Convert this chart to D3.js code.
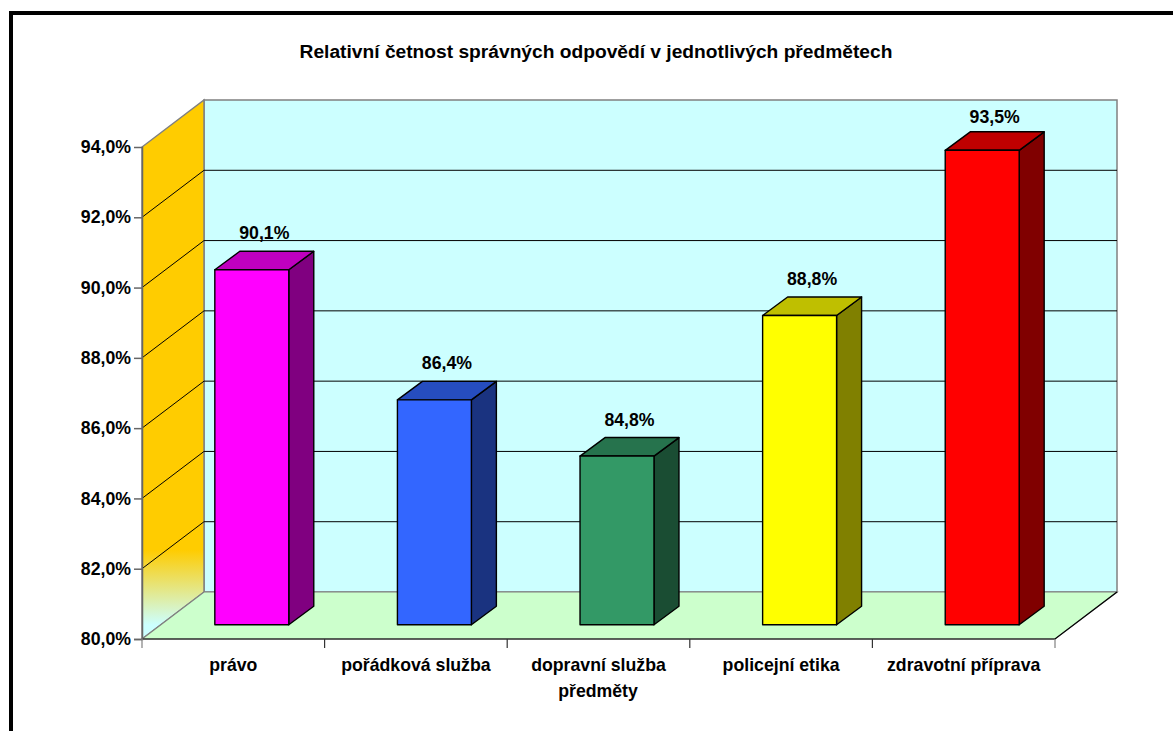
<!DOCTYPE html>
<html>
<head>
    <meta charset="utf-8">
    <title>Relativní četnost správných odpovědí</title>
    <script src="https://d3js.org/d3.v7.min.js"></script>
    <style>
        html, body { margin: 0; padding: 0; background: #fff; overflow: hidden; }
        text { font-family: "Liberation Sans", Arial, sans-serif; font-weight: bold; fill: #000; }
    </style>
</head>
<body>
    <div id="chart"></div>

    <script>
        // Data
        const titleText = "Relativní četnost správných odpovědí v jednotlivých předmětech";
        const xTitle = "předměty";
        const subjects = ["právo", "pořádková služba", "dopravní služba", "policejní etika", "zdravotní příprava"];
        const shares = [90.1, 86.4, 84.8, 88.8, 93.5];
        const yTicks = [80, 82, 84, 86, 88, 90, 92, 94];

        const frontColors = ["#ff00ff", "#3366ff", "#339966", "#ffff00", "#ff0000"];
        const topColors = ["#bf00bf", "#264dbf", "#26734d", "#bfbf00", "#bf0000"];
        const sideColors = ["#800080", "#1a3380", "#1a4d33", "#808000", "#800000"];

        const w = 1173, h = 731;
        const plot = { left: 142, right: 1055, top: 147, bottom: 639 };
        const depth = { dx: 62, dy: -47 };      // whole floor
        const barDepth = { dx: 25, dy: -18.5 }; // one bar
        const inset = { dx: (depth.dx - barDepth.dx) / 2, dy: (depth.dy - barDepth.dy) / 2 };
        const labelSize = "17.7px";

        const svg = d3.select("#chart").append("svg")
            .attr("width", w)
            .attr("height", h)
            .style("display", "block");

        const x = d3.scaleBand()
            .domain(subjects)
            .range([plot.left, plot.right])
            .paddingInner(0.595)
            .paddingOuter(0.2975);
        const y = d3.scaleLinear()
            .domain([80, 94])
            .range([plot.bottom, plot.top]);

        const cz = d3.formatLocale({ decimal: ",", thousands: " ", grouping: [3], currency: ["", " Kč"] });
        const pct = v => cz.format(".1f")(v) + "%";
        const poly = pts => pts.map(p => p.join(",")).join(" ");

        // outer frame, only left and top are in the picture
        svg.append("path")
            .attr("d", `M11,${h} V13 H${w}`)
            .attr("fill", "none")
            .attr("stroke", "#000")
            .attr("stroke-width", 4);

        svg.append("text")
            .attr("x", 596)
            .attr("y", 58)
            .attr("text-anchor", "middle")
            .style("font-size", "19.2px")
            .text(titleText);

        // gold side wall fading out near the floor
        const fade = svg.append("defs").append("linearGradient")
            .attr("id", "wallFade")
            .attr("gradientUnits", "userSpaceOnUse")
            .attr("x1", 0).attr("x2", 0)
            .attr("y1", 550).attr("y2", 625);
        fade.append("stop").attr("offset", 0).attr("stop-color", "#ffcc00");
        fade.append("stop").attr("offset", 1).attr("stop-color", "#ccffff");

        const x0 = plot.left, x1 = plot.right, yB = y(80), yT = y(94);

        // back wall
        svg.append("rect")
            .attr("x", x0 + depth.dx)
            .attr("y", yT + depth.dy)
            .attr("width", x1 - x0)
            .attr("height", yB - yT)
            .attr("fill", "#ccffff")
            .attr("stroke", "#808080")
            .attr("stroke-width", 1.5);

        // side wall
        svg.append("polygon")
            .attr("points", poly([[x0, yB], [x0, yT], [x0 + depth.dx, yT + depth.dy], [x0 + depth.dx, yB + depth.dy]]))
            .attr("fill", "url(#wallFade)")
            .attr("stroke", "#808080")
            .attr("stroke-width", 1.5);

        // floor
        svg.append("polygon")
            .attr("points", poly([[x0, yB], [x1, yB], [x1 + depth.dx, yB + depth.dy], [x0 + depth.dx, yB + depth.dy]]))
            .attr("fill", "#ccffcc")
            .attr("stroke", "#808080")
            .attr("stroke-width", 1.2);

        // gridlines across side wall and back wall
        svg.append("g").selectAll("polyline")
            .data(yTicks.filter(d => d > 80 && d < 94))
            .enter()
            .append("polyline")
            .attr("points", d => poly([[x0, y(d)], [x0 + depth.dx, y(d) + depth.dy], [x1 + depth.dx, y(d) + depth.dy]]))
            .attr("fill", "none")
            .attr("stroke", "#000")
            .attr("stroke-width", 1);

        // floor edges in black
        svg.append("polyline")
            .attr("points", poly([[x0, yB], [x1, yB], [x1 + depth.dx, yB + depth.dy]]))
            .attr("fill", "none")
            .attr("stroke", "#000")
            .attr("stroke-width", 1.2);

        // y axis
        const yAxis = svg.append("g")
            .attr("transform", `translate(${x0},0)`)
            .call(d3.axisLeft(y).tickValues(yTicks).tickSize(8).tickPadding(3).tickFormat(pct));
        yAxis.select(".domain").attr("stroke", "#666").attr("stroke-width", 1.5);
        yAxis.selectAll(".tick line").attr("stroke", "#666").attr("stroke-width", 1.5);
        yAxis.selectAll("text").style("font-size", labelSize).attr("font-family", null);
        yAxis.selectAll(".tick").filter(d => d === 94).select("line").remove();

        // x axis: labels from the band scale, ticks on the band edges
        const xAxis = svg.append("g")
            .attr("transform", `translate(0,${yB})`)
            .call(d3.axisBottom(x).tickSize(0).tickPadding(19));
        xAxis.select(".domain").remove();
        xAxis.selectAll("text").style("font-size", labelSize).attr("font-family", null);

        const step = x.step();
        const edges = subjects.map(s => x(s) - x.paddingInner() * step / 2).concat(x1);
        svg.append("g").selectAll("line")
            .data(edges)
            .enter()
            .append("line")
            .attr("x1", d => d).attr("x2", d => d)
            .attr("y1", yB).attr("y2", yB + 9)
            .attr("stroke", (d, i) => (i === 0 || i === edges.length - 1) ? "#808080" : "#333")
            .attr("stroke-width", 1.2);

        svg.append("text")
            .attr("x", 598)
            .attr("y", 697)
            .attr("text-anchor", "middle")
            .style("font-size", labelSize)
            .text(xTitle);

        // bars, three faces each
        const bw = x.bandwidth();
        const bars = svg.append("g").selectAll("g")
            .data(subjects.map((s, i) => ({ s, v: shares[i], i })))
            .enter()
            .append("g")
            .attr("stroke", "#000")
            .attr("stroke-width", 1.4)
            .attr("stroke-linejoin", "round");

        const fx = d => x(d.s) + inset.dx;
        const fy = v => y(v) + inset.dy;

        bars.append("polygon")
            .attr("fill", d => sideColors[d.i])
            .attr("points", d => poly([
                [fx(d) + bw, fy(80)], [fx(d) + bw, fy(d.v)],
                [fx(d) + bw + barDepth.dx, fy(d.v) + barDepth.dy], [fx(d) + bw + barDepth.dx, fy(80) + barDepth.dy]]));
        bars.append("polygon")
            .attr("fill", d => topColors[d.i])
            .attr("points", d => poly([
                [fx(d), fy(d.v)], [fx(d) + bw, fy(d.v)],
                [fx(d) + bw + barDepth.dx, fy(d.v) + barDepth.dy], [fx(d) + barDepth.dx, fy(d.v) + barDepth.dy]]));
        bars.append("rect")
            .attr("fill", d => frontColors[d.i])
            .attr("x", fx)
            .attr("y", d => fy(d.v))
            .attr("width", bw)
            .attr("height", d => fy(80) - fy(d.v));

        // value labels above the bars, held under the top of the wall
        svg.append("g").selectAll("text")
            .data(subjects.map((s, i) => ({ s, v: shares[i] })))
            .enter()
            .append("text")
            .attr("x", d => fx(d) + bw / 2 + barDepth.dx / 2)
            .attr("y", d => Math.max(123, fy(d.v) + barDepth.dy - 12))
            .attr("text-anchor", "middle")
            .style("font-size", labelSize)
            .text(d => pct(d.v));
    </script>
</body>
</html>
